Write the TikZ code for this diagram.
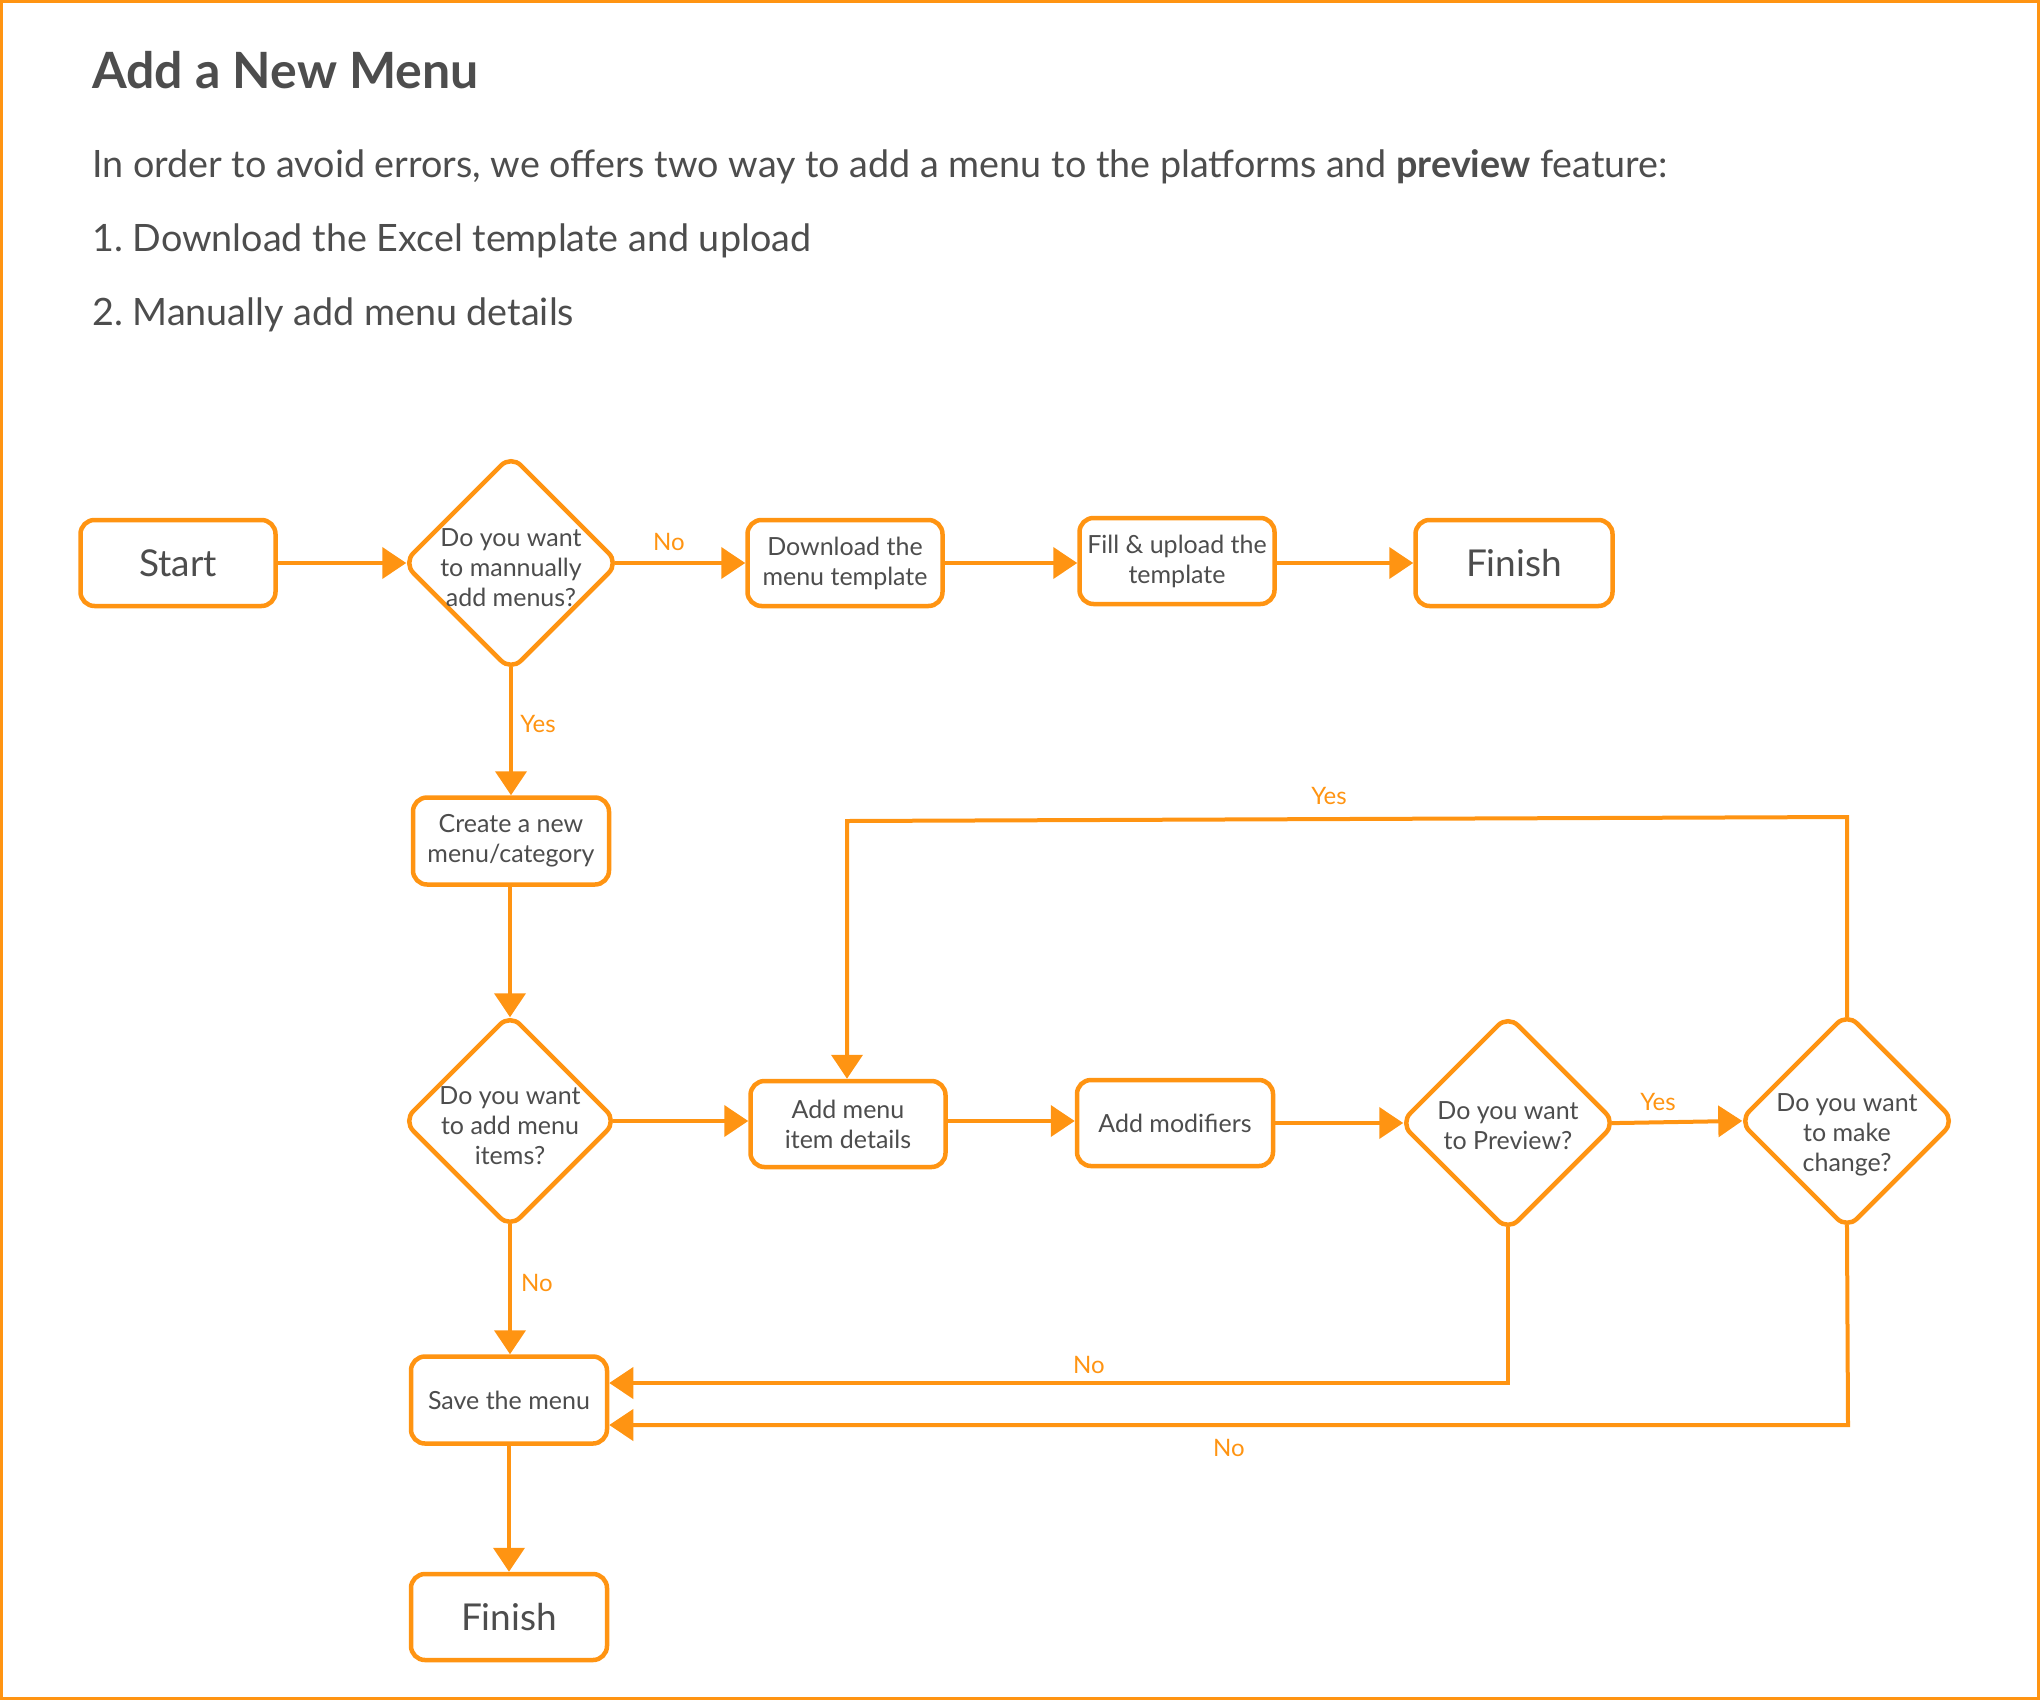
\documentclass[tikz,border=0pt]{standalone}
\usepackage{fontspec}
\setmainfont{Lato}
\frenchspacing
\usetikzlibrary{shapes.geometric,arrows.meta}
\definecolor{org}{RGB}{255,148,18}
\definecolor{txt}{RGB}{77,77,77}
\begin{document}
\begin{tikzpicture}[x=1pt,y=-1pt,
 box/.style={draw=org,line width=4.5pt,rounded corners=14pt,minimum width=195pt,minimum height=86pt,inner sep=0pt,align=center,text=txt,font=\fontsize{25}{30}\selectfont,fill=white},
 bigbox/.style={box,font=\fontsize{37}{44}\selectfont},
 dia/.style={draw=org,line width=4.5pt,shape=diamond,rounded corners=14pt,minimum width=217pt,minimum height=217pt,inner sep=0pt,fill=white},
 dtext/.style={align=center,text=txt,font=\fontsize{25}{30}\selectfont,inner sep=0pt},
 conn/.style={draw=org,line width=4pt,-{Triangle[length=24pt,width=31pt]}},
 fromdia/.style={shorten <=-7pt},
 todia/.style={shorten >=-6pt},
 elab/.style={text=org,font=\fontsize{24}{28}\selectfont,inner sep=0pt},
 para/.style={anchor=base west,inner sep=0pt,text=txt,font=\fontsize{37.7}{44}\selectfont},
]
\useasboundingbox (0,0) rectangle (2040,1700);
\draw[org,line width=3pt] (1.5,1.5) rectangle (2038.5,1698.5);

% header text
\node[anchor=base west,inner sep=0pt,text=txt,font=\fontsize{50}{60}\selectfont\bfseries] (title) at (92,88) {Add a New Menu};
\node[para] (p1) at (92,177) {In order to avoid errors, we offers two way to add a menu to the platforms and \textbf{preview} feature:};
\node[para] (p2) at (92,251) {1. Download the Excel template and upload};
\node[para] (p3) at (92,325) {2. Manually add menu details};

% nodes
\node[bigbox] (start) at (178,563) {Start};
\node[dia] (d1) at (511,563) {};
\node[dtext] (d1t) at (511,568) {Do you want\\to mannually\\add menus?};
\node[box] (down) at (845,563) {Download the\\menu template};
\node[box] (fill) at (1177,561) {Fill \& upload the\\template};
\node[bigbox,minimum width=197pt] (fin1) at (1514,563) {Finish};

\node[box,minimum width=196pt,minimum height=87pt] (create) at (511,841) {Create a new\\menu/category};
\node[dia,minimum width=215pt,minimum height=215pt] (d2) at (510,1121) {};
\node[dtext] (d2t) at (510,1126) {Do you want\\to add menu\\items?};
\node[box] (item) at (848,1124) {Add menu\\item details};
\node[box,minimum width=196pt] (mods) at (1175,1123) {Add modifiers};
\node[dia] (d3) at (1508,1123) {};
\node[dtext] (d3t) at (1508,1126) {Do you want\\to Preview?};
\node[dia] (d4) at (1847,1121) {};
\node[dtext] (d4t) at (1847,1135) {Do you want\\to make\\change?};
\node[box,minimum width=196pt,minimum height=87pt] (save) at (509,1400) {Save the menu};
\node[bigbox,minimum width=196pt] (fin2) at (509,1617) {Finish};

% connectors
\draw[conn,todia] (start.east) -- (start.east -| d1.west);
\draw[conn,fromdia] (d1.east) -- (d1.east -| down.west);
\draw[conn] (down.east) -- (down.east -| fill.west);
\draw[conn] (fill.east |- down.east) -- (fin1.west);
\draw[conn,fromdia] (d1.south) -- (d1.south |- create.north);
\draw[conn,todia] (create.south -| d2.north) -- (d2.north);
\draw[conn,fromdia] (d2.east) -- (d2.east -| item.west);
\draw[conn] (item.east |- d2.east) -- (mods.west |- d2.east);
\draw[conn,todia] (mods.east |- d3.west) -- (d3.west);
\draw[conn,fromdia,todia] (d3.east) -- (d4.west);
\draw[conn,fromdia] (d2.south) -- (d2.south |- save.north);
\draw[conn] (save.south) -- (fin2.north);

\coordinate (yr) at (1847,817);
\coordinate (yl) at (847,821);
\draw[conn,fromdia] (d4.north) -- (yr) -- (yl) -- (yl |- item.north);
\coordinate (n3) at (1508,1383);
\draw[conn,fromdia] (d3.south) -- (n3) -- (n3 -| save.east);
\coordinate (n4) at (1848,1425);
\draw[conn,fromdia] (d4.south) -- (n4) -- (n4 -| save.east);

% edge labels
\node[elab] (lno1) at (669,542) {No};
\node[elab] (lyes1) at (538,724) {Yes};
\node[elab] (lyes2) at (1329,796) {Yes};
\node[elab] (lyes3) at (1658,1102) {Yes};
\node[elab] (lno2) at (537,1283) {No};
\node[elab] (lno3) at (1089,1365) {No};
\node[elab] (lno4) at (1229,1448) {No};
\end{tikzpicture}
\end{document}
